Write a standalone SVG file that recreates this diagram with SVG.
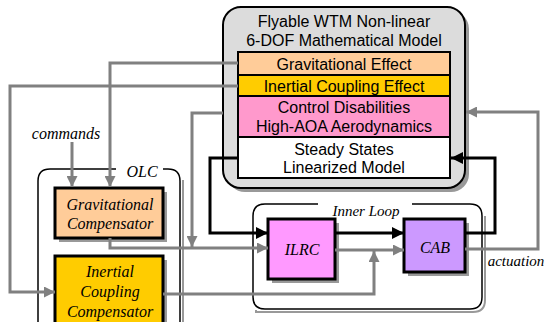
<svg xmlns="http://www.w3.org/2000/svg" width="544" height="322" viewBox="0 0 544 322">
<style>
.sans{font-family:"Liberation Sans",Arial,sans-serif;font-size:16px;fill:#000;text-anchor:middle}
.ser{font-family:"Liberation Serif","Times New Roman",serif;font-style:italic;fill:#000;text-anchor:middle}
.box{stroke:#000;stroke-width:3}
.shadow{fill:#999}
.g{fill:none;stroke:#808080;stroke-width:3}
.k{fill:none;stroke:#000;stroke-width:3}
.frame{fill:none;stroke:#000;stroke-width:1.5}
.frsh{fill:none;stroke:#999;stroke-width:2}
</style>
<defs>
<marker id="ag" markerUnits="userSpaceOnUse" markerWidth="11" markerHeight="11" refX="11" refY="5.5" orient="auto"><path d="M0,0 L11,5.5 L0,11 z" fill="#808080"/></marker>
<marker id="ak" markerUnits="userSpaceOnUse" markerWidth="12" markerHeight="12" refX="12" refY="6" orient="auto"><path d="M0,0 L12,6 L0,12 z" fill="#000"/></marker>
</defs>
<rect width="544" height="322" fill="#fff"/>

<g id="model">
<rect x="227" y="11" width="242" height="181" rx="18" class="shadow"/>
<rect x="223" y="7" width="242" height="181" rx="18" fill="#dcdcdc" stroke="#000" stroke-width="2"/>
<text x="344" y="27" class="sans">Flyable WTM Non-linear</text>
<text x="344" y="46" class="sans">6-DOF Mathematical Model</text>
<rect x="238" y="52" width="212" height="23" fill="#ffcc99" stroke="#000" stroke-width="2"/>
<rect x="238" y="75" width="212" height="21" fill="#ffcc00" stroke="#000" stroke-width="2"/>
<rect x="238" y="96" width="212" height="41" fill="#ff99cc" stroke="#000" stroke-width="2"/>
<rect x="238" y="137" width="212" height="41" fill="#fff" stroke="#000" stroke-width="2"/>
<text x="344" y="70" class="sans">Gravitational Effect</text>
<text x="344" y="92" class="sans">Inertial Coupling Effect</text>
<text x="344" y="113" class="sans">Control Disabilities</text>
<text x="344" y="132" class="sans">High-AOA Aerodynamics</text>
<text x="344" y="155" class="sans">Steady States</text>
<text x="344" y="173" class="sans">Linearized Model</text>
</g>

<g id="olc">
<path d="M183,180 V322" class="frsh"/>
<path d="M38,322 V181 Q38,169 50,169 H116 M163,169 H168 Q180,169 180,181 V322" class="frame"/>
<text x="142" y="177" class="ser" font-size="16">OLC</text>
</g>

<g id="innerloop">
<path d="M256,310 V312 H473 Q485,312 485,300 V216" class="frsh"/>
<path d="M318,204 H265 Q253,204 253,216 V297 Q253,309 265,309 H470 Q482,309 482,297 V216 Q482,204 470,204 H412" class="frame"/>
<text x="366" y="216" class="ser" font-size="15">Inner Loop</text>
</g>

<g id="grav-comp">
<rect x="59" y="192" width="108" height="50" class="shadow"/>
<rect x="55" y="188" width="108" height="50" fill="#ffcc99" class="box"/>
<text x="110" y="210" class="ser" font-size="16">Gravitational</text>
<text x="110" y="229" class="ser" font-size="16">Compensator</text>
</g>

<g id="inertial-comp">
<rect x="59" y="260" width="108" height="70" class="shadow"/>
<rect x="55" y="256" width="108" height="70" fill="#ffcc00" class="box"/>
<text x="110" y="277" class="ser" font-size="16">Inertial</text>
<text x="110" y="297" class="ser" font-size="16">Coupling</text>
<text x="110" y="317" class="ser" font-size="16">Compensator</text>
</g>

<g id="ilrc">
<rect x="272" y="223" width="67" height="60" class="shadow"/>
<rect x="268" y="219" width="67" height="60" fill="#ff99ff" class="box"/>
<text x="302" y="255" class="ser" font-size="16">ILRC</text>
</g>

<g id="cab">
<rect x="408" y="223" width="61" height="53" class="shadow"/>
<rect x="404" y="219" width="61" height="53" fill="#cc99ff" class="box"/>
<text x="435" y="253" class="ser" font-size="16">CAB</text>
</g>

<g id="labels">
<text x="66" y="139" class="ser" font-size="16">commands</text>
<text x="516" y="266" class="ser" font-size="15">actuation</text>
</g>

<g id="connectors">
<path d="M238,63 H110 V187" class="g" marker-end="url(#ag)"/>
<path d="M238,86 H10 V292 H55" class="g" marker-end="url(#ag)"/>
<path d="M72,142 V187" class="g" marker-end="url(#ag)"/>
<path d="M223,113 H192 V247" class="g" marker-end="url(#ag)"/>
<path d="M110,238 V248 H268" class="g" marker-end="url(#ag)"/>
<path d="M163,294 H374 V251" class="g" marker-end="url(#ag)"/>
<path d="M335,250 H404" class="g" marker-end="url(#ag)"/>
<path d="M465,249 H538 V112 H466" class="g" marker-end="url(#ag)"/>
<path d="M238,158 H210 V233 H268" class="k" marker-end="url(#ak)"/>
<path d="M335,233 H404" class="k" marker-end="url(#ak)"/>
<path d="M465,233 H495 V158 H451" class="k" marker-end="url(#ak)"/>
</g>
</svg>
